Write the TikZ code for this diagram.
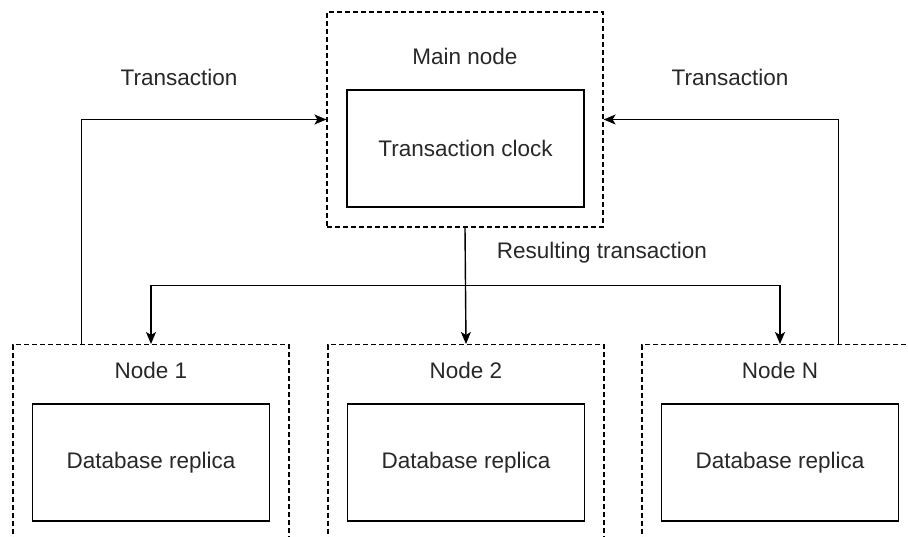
\documentclass[tikz,border=0pt]{standalone}
\usepackage{fontspec}
\setmainfont{Liberation Sans}
\usepackage{tikz}
\usetikzlibrary{arrows.meta, positioning, calc}
\definecolor{cText}{RGB}{40,40,40}
\tikzset{
	hostbox/.style ={rectangle, draw=black, line width=1.2pt, dash pattern=on 5pt off 3pt, minimum width=276pt, inner sep=0pt},
	innerbox/.style={rectangle, draw=black, line width=1.6pt, minimum width=237pt, minimum height=117pt, align=center, text=cText, inner sep=0pt},
	lbl/.style     ={text=cText, inner sep=0pt},
	sig/.style     ={-{Stealth[length=12pt, width=10pt, inset=3pt]}, line width=1.4pt},
}

\begin{document}
\begin{tikzpicture}[x=1pt, y=-1pt, font=\fontsize{22.5pt}{27pt}\selectfont]
			\clip (0,0) rectangle (908,537);
			\fill[white] (0,0) rectangle (908,537);
			% main node with the clock
			\node[hostbox, minimum height=215pt] (main) at (465,119.5) {};
			\node[lbl, below=37pt of main.north] (mainlbl) {Main node};
			\node[innerbox] (clock) at (465.5,148.5) {Transaction clock};
			% replica nodes, cut off by the lower edge
			\node[hostbox, minimum height=240pt, anchor=north] (n1) at (151,344) {};
			\node[hostbox, minimum height=240pt, anchor=north] (n2) at (466,344) {};
			\node[hostbox, minimum height=240pt, anchor=north] (nN) at (780,344) {};
			\node[lbl, below=18pt of n1.north] (n1lbl) {Node 1};
			\node[lbl, below=18pt of n2.north] (n2lbl) {Node 2};
			\node[lbl, below=18pt of nN.north] (nNlbl) {Node N};
			\node[innerbox, below=59pt of n1.north] (db1) {Database replica};
			\node[innerbox, below=59pt of n2.north] (db2) {Database replica};
			\node[innerbox, below=59pt of nN.north] (dbN) {Database replica};
			% labels on the connectors
			\node[lbl] (txl) at (179,77) {Transaction};
			\node[lbl] (txr) at (730,77) {Transaction};
			\node[lbl] (res) at (602,253) {Resulting transaction};
			% connectors
			\coordinate (upl) at ($(n1.north west)!0.25!(n1.north east)$);
			\coordinate (upr) at ($(nN.north west)+(197,0)$);
			\coordinate (split) at ($(main.south)+(0,58)$);
			\draw[sig] (upl) |- (main.west);
			\draw[sig] (upr) |- (main.east);
			\draw[sig] (main.south) -- (n2.north);
			\draw[sig] (split) -| (n1.north);
			\draw[sig] (split) -| (nN.north);
		\end{tikzpicture}
\end{document}
